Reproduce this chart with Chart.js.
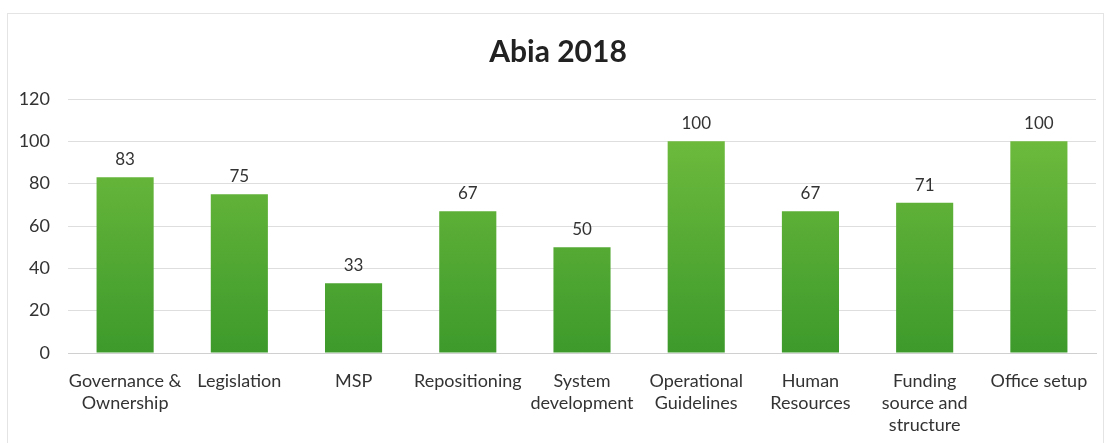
<!DOCTYPE html>
<html>
<head>
<meta charset="utf-8">
<script src="https://cdn.jsdelivr.net/npm/chart.js@4/dist/chart.umd.min.js"></script>
<style>
  html, body { margin: 0; padding: 0; background: #fff; }
  #wrap { position: relative; width: 1114px; height: 443px; }
  #frame { position: absolute; left: 7px; top: 13px; width: 1097px; height: 440px; border: 1px solid #e4e4e4; box-sizing: border-box; }
</style>
</head>
<body>
<div id="wrap">
  <div id="frame"></div>
  <canvas id="grafico" width="1114" height="443"></canvas>
</div>
<script>
const categorias = [
  ["Governance &", "Ownership"],
  "Legislation",
  "MSP",
  "Repositioning",
  ["System", "development"],
  ["Operational", "Guidelines"],
  ["Human", "Resources"],
  ["Funding", "source and", "structure"],
  "Office setup"
];
const valores = [83, 75, 33, 67, 50, 100, 67, 71, 100];
const titulo = "Abia 2018";

const fuente = 'Lato, "Open Sans", sans-serif';

// etiquetas de valor encima de cada barra
const etiquetas = {
  id: 'etiquetas',
  afterDatasetsDraw(chart) {
    const ctx = chart.ctx;
    const meta = chart.getDatasetMeta(0);
    ctx.save();
    ctx.font = '17px ' + fuente;
    ctx.fillStyle = '#333';
    ctx.textAlign = 'center';
    ctx.textBaseline = 'bottom';
    meta.data.forEach((barra, i) => {
      ctx.fillText(valores[i], barra.x, barra.y - 9);
    });
    ctx.restore();
  }
};

function degradado(context) {
  const area = context.chart.chartArea;
  if (!area) return '#5aad35';
  const g = context.chart.ctx.createLinearGradient(0, area.top, 0, area.bottom);
  g.addColorStop(0, '#76c040');
  g.addColorStop(1, '#3d9a2b');
  return g;
}

new Chart(document.getElementById("grafico"), {
  type: 'bar',
  data: {
    labels: categorias,
    datasets: [{
      data: valores,
      backgroundColor: degradado,
      categoryPercentage: 1.0,
      barPercentage: 0.5
    }]
  },
  options: {
    responsive: false,
    animation: false,
    layout: { padding: { left: 20, right: 18, top: 14, bottom: 0 } },
    plugins: {
      legend: { display: false },
      tooltip: { enabled: false },
      title: {
        display: true,
        text: titulo,
        color: '#222',
        font: { family: fuente, size: 30, weight: 'bold' },
        padding: { top: 20, bottom: 29 }
      }
    },
    scales: {
      y: {
        min: 0, max: 120,
        ticks: { stepSize: 20, color: '#333', padding: 18, font: { family: fuente, size: 18 } },
        grid: { color: '#dedede', drawTicks: false },
        border: { display: false },
        afterFit: (eje) => { eje.width = 48; }
      },
      x: {
        ticks: { color: '#333', maxRotation: 0, autoSkip: false, padding: 9, font: { family: fuente, size: 18, lineHeight: 1.22 } },
        grid: { display: false },
        border: { color: '#d0d0d0' },
        afterFit: (eje) => { eje.height = 90; eje.paddingLeft = 0; eje.paddingRight = 0; }
      }
    }
  },
  plugins: [etiquetas]
});
</script>
</body>
</html>
